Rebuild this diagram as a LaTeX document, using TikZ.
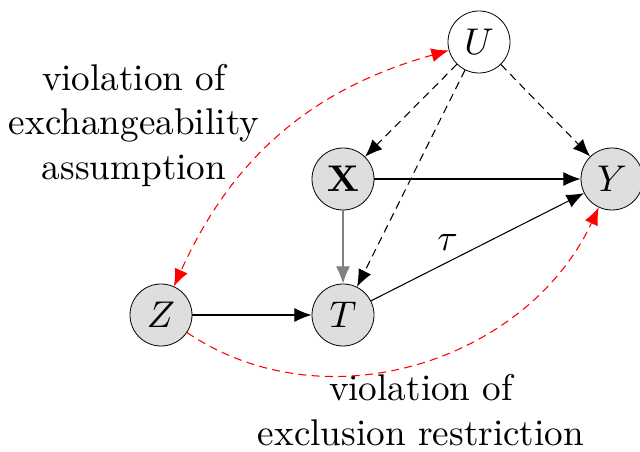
\documentclass[tikz,border=0pt]{standalone}
\usepackage{graphicx}
\usetikzlibrary{arrows.meta}
\newcommand{\Sc}[1]{\scalebox{2.79}{#1}}
\begin{document}
\begin{tikzpicture}[x=0.75pt,y=-0.75pt,
  var/.style={circle,draw=black,line width=0.6pt,fill=black!13,minimum size=46.5pt,inner sep=0pt},
  latent/.style={var,fill=white},
  lbl/.style={inner sep=0pt},
  edge/.style={line width=0.8pt,-{Latex[length=13pt,width=10.5pt]}},
  dedge/.style={edge,dash pattern=on 6pt off 4pt},
  redge/.style={line width=0.8pt,red,dash pattern=on 6pt off 4pt}]
\useasboundingbox (0,0) rectangle (640,452);
\node[latent] (U) at (479,42) {\Sc{$U$}};
\node[var] (X) at (343,179) {\Sc{$\mathbf{X}$}};
\node[var] (Y) at (612,179) {\Sc{$Y$}};
\node[var] (Z) at (161,315) {\Sc{$Z$}};
\node[var] (T) at (343,315) {\Sc{$T$}};
\node[lbl] (L1) at (134,126) {\Sc{\begin{tabular}{@{}c@{}}violation of\\exchangeability\\assumption\end{tabular}}};
\node[lbl] (L2) at (421,414) {\Sc{\begin{tabular}{@{}c@{}}violation of\\exclusion restriction\end{tabular}}};
\draw[dedge] (U) -- (X);
\draw[dedge] (U) -- (T);
\draw[dedge] (U) -- (Y);
\draw[edge] (X) -- (Y);
\draw[edge,gray] (X) -- (T);
\draw[edge] (T) -- node[pos=0.36,above=8pt,inner sep=0pt] (tau) {\Sc{$\tau$}} (Y);
\draw[edge] (Z) -- (T);
\draw[redge,{Latex[length=13pt,width=10.5pt]}-{Latex[length=13pt,width=10.5pt]}] (U) to[bend right=25] (Z);
\draw[redge,-{Latex[length=13pt,width=10.5pt]}] (Z) to[out=-34,in=-115,looseness=1.0] (Y);
\end{tikzpicture}
\end{document}
